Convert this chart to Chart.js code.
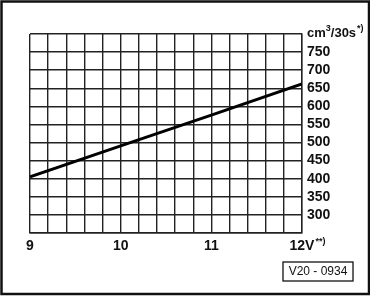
<!DOCTYPE html>
<html>
<head>
<meta charset="utf-8">
<script src="https://cdn.jsdelivr.net/npm/chart.js@4/dist/chart.umd.min.js"></script>
<style>
  body { margin: 0; background: #fff; }
  canvas { display: block; }
</style>
</head>
<body>
<canvas id="chart" width="370" height="297"></canvas>
<script>
// ========== DATA ==========
const voltage = [9, 10, 11, 12];
const flow = [405, 491, 576, 662];          // cm3 / 30s
const yMin = 250, yMax = 800, yStep = 50;
const xMin = 9, xMax = 12, xStep = 0.2;
const unitLabel = { main: ['cm', '/30s'], sup: ['3', '*)'] };
const xLastSuffix = '**)';
const figureCode = 'V20 - 0934';

const FONT = '"Liberation Sans", Arial, sans-serif';

// ========== EXTRA DRAWING ==========
const extras = {
  id: 'extras',
  afterDraw(chart) {
    const ctx = chart.ctx;
    const area = chart.chartArea;
    const xs = chart.scales.x;
    ctx.save();

    // outer frame
    ctx.strokeStyle = '#111';
    ctx.lineWidth = 2.5;
    ctx.strokeRect(1.5, 1.5, 367.5, 292.5);

    // unit label at top of y axis
    ctx.fillStyle = '#111';
    ctx.textBaseline = 'alphabetic';
    ctx.textAlign = 'left';
    let x = area.right + 5, y = 37;
    ctx.font = 'bold 13px ' + FONT;
    ctx.fillText(unitLabel.main[0], x, y);
    x += ctx.measureText(unitLabel.main[0]).width;
    ctx.font = 'bold 9px ' + FONT;
    ctx.fillText(unitLabel.sup[0], x, y - 6);
    x += ctx.measureText(unitLabel.sup[0]).width;
    ctx.font = 'bold 13px ' + FONT;
    ctx.fillText(unitLabel.main[1], x, y);
    x += ctx.measureText(unitLabel.main[1]).width + 1;
    ctx.font = 'bold 9px ' + FONT;
    ctx.fillText(unitLabel.sup[1], x, y - 6);

    // superscript after last x label
    ctx.font = 'bold 14px ' + FONT;
    const lastW = ctx.measureText(xMax + 'V').width;
    const px = xs.getPixelForValue(xMax) + lastW / 2 + 1;
    ctx.font = 'bold 9px ' + FONT;
    ctx.fillText(xLastSuffix, px, area.bottom + 11);

    // figure code box
    ctx.lineWidth = 1.3;
    ctx.strokeRect(283, 262, 70, 19);
    ctx.font = '12px ' + FONT;
    ctx.textAlign = 'center';
    ctx.textBaseline = 'middle';
    ctx.fillText(figureCode, 318, 272);
    ctx.restore();
  }
};

// ========== CHART ==========
new Chart(document.getElementById('chart'), {
  type: 'line',
  data: {
    datasets: [{
      data: voltage.map((v, i) => ({ x: v, y: flow[i] })),
      borderColor: '#000',
      borderWidth: 3,
      pointRadius: 0,
      tension: 0
    }]
  },
  options: {
    responsive: false,
    animation: false,
    events: [],
    layout: { padding: { left: 30, top: 34, right: 0, bottom: 0 } },
    plugins: { legend: { display: false }, tooltip: { enabled: false } },
    scales: {
      x: {
        type: 'linear',
        min: xMin, max: xMax,
        afterFit: s => { s.height = 64; },
        grid: { color: '#222', lineWidth: 1.4, drawTicks: false },
        border: { color: '#222', width: 1.4 },
        ticks: {
          stepSize: xStep,
          autoSkip: false,
          maxRotation: 0,
          padding: 5,
          color: '#111',
          font: { family: FONT, size: 14, weight: 'bold' },
          callback: v => {
            if (Math.abs(v - Math.round(v)) > 1e-6) return '';
            const n = Math.round(v);
            return n === xMax ? n + 'V' : String(n);
          }
        }
      },
      y: {
        position: 'right',
        min: yMin, max: yMax,
        afterFit: s => { s.width = 68; },
        grid: { color: '#222', lineWidth: 1.4, drawTicks: false },
        border: { color: '#222', width: 1.4 },
        ticks: {
          stepSize: yStep,
          autoSkip: false,
          padding: 5,
          color: '#111',
          font: { family: FONT, size: 14, weight: 'bold' },
          callback: v => (v === yMin || v === yMax) ? '' : String(v)
        }
      }
    }
  },
  plugins: [extras]
});
</script>
</body>
</html>
